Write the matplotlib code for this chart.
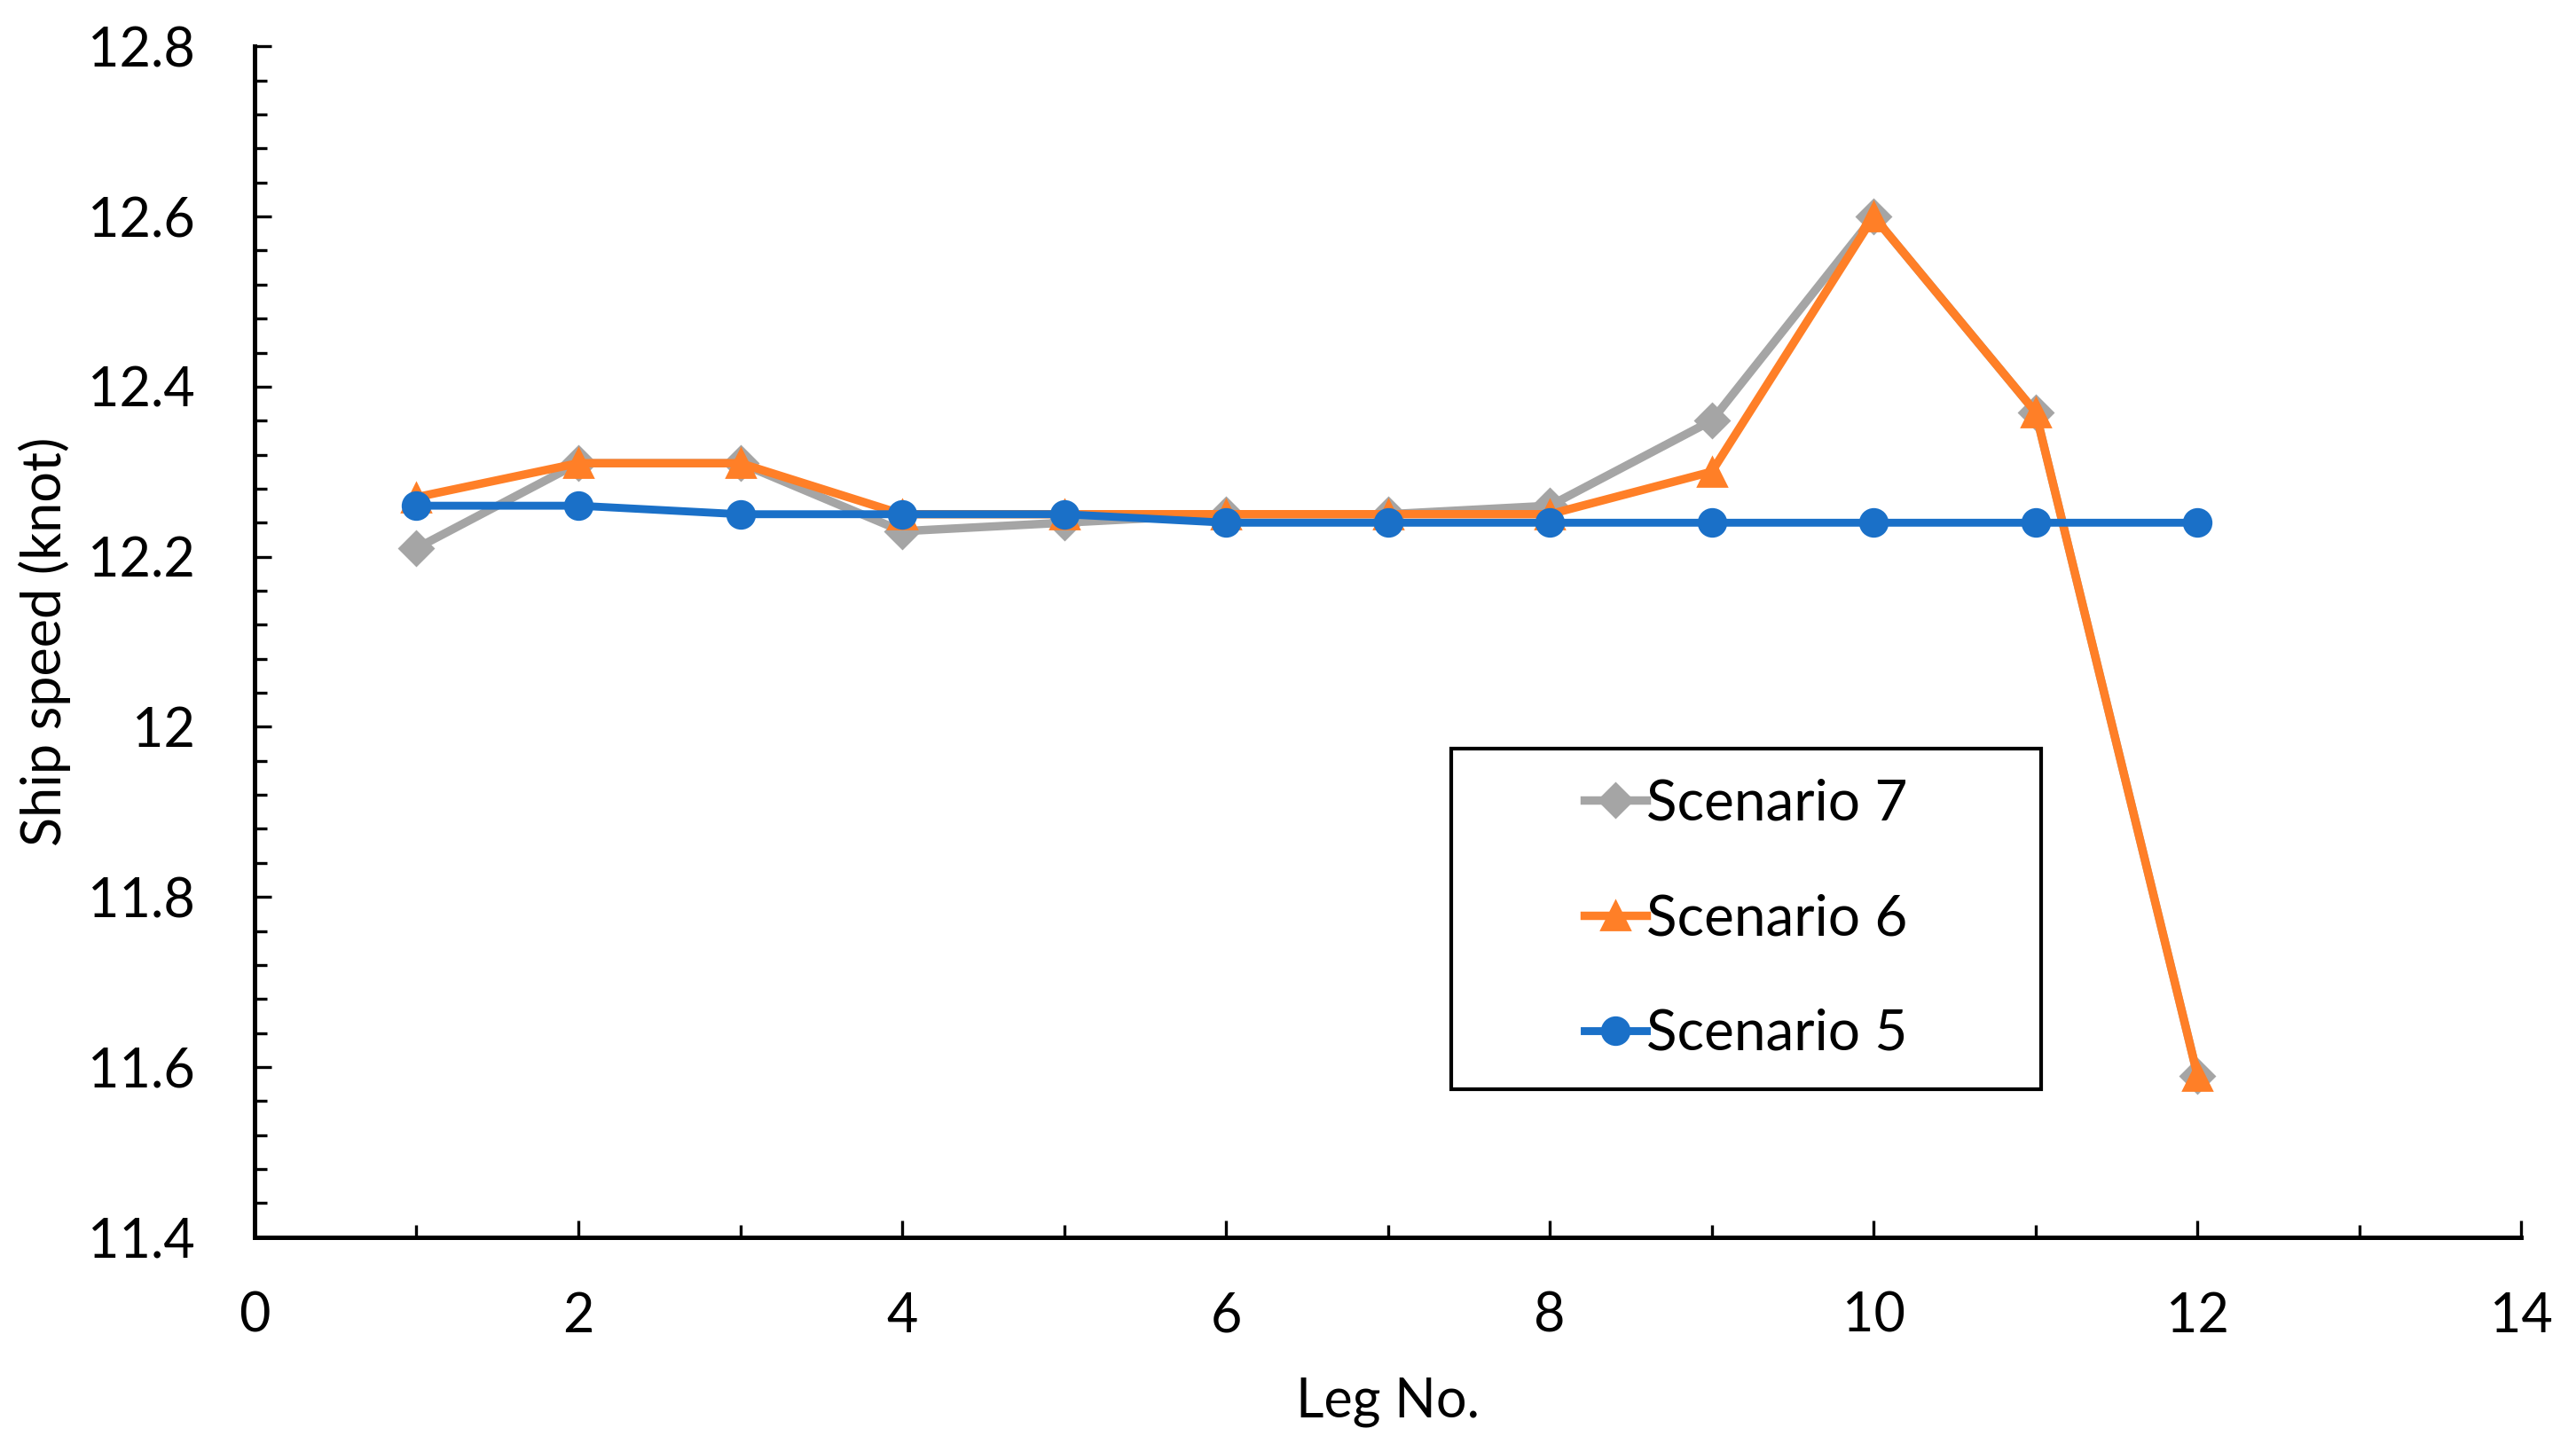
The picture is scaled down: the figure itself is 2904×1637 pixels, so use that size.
import matplotlib
matplotlib.use("Agg")
import matplotlib.pyplot as plt
from matplotlib.patches import Rectangle
from matplotlib.ticker import MultipleLocator, FuncFormatter

plt.rcParams['font.family'] = ['Lato', 'DejaVu Sans']

# Data
legs = [1, 2, 3, 4, 5, 6, 7, 8, 9, 10, 11, 12]
scenario7 = [12.21, 12.31, 12.31, 12.23, 12.24, 12.25, 12.25, 12.26, 12.36, 12.60, 12.37, 11.59]
scenario6 = [12.27, 12.31, 12.31, 12.25, 12.25, 12.25, 12.25, 12.25, 12.30, 12.60, 12.37, 11.59]
scenario5 = [12.26, 12.26, 12.25, 12.25, 12.25, 12.24, 12.24, 12.24, 12.24, 12.24, 12.24, 12.24]

fig = plt.figure(figsize=(14.52, 8.185), dpi=200)
ax = fig.add_axes([0.0988, 0.148, 0.880, 0.820])

ax.plot(legs, scenario7, color="#A5A5A5", lw=3.4, marker="D", ms=9.5,
        label="Scenario 7")
ax.plot(legs, scenario6, color="#FF7F27", lw=3.4, marker="^", ms=11.5,
        label="Scenario 6")
ax.plot(legs, scenario5, color="#1A70C8", lw=3.2, marker="o", ms=11,
        label="Scenario 5")

ax.set_xlim(0, 14)
ax.set_ylim(11.4, 12.8)
ax.xaxis.set_major_locator(MultipleLocator(2))
ax.xaxis.set_minor_locator(MultipleLocator(1))
ax.yaxis.set_major_locator(MultipleLocator(0.2))
ax.yaxis.set_minor_locator(MultipleLocator(0.04))
ax.yaxis.set_major_formatter(FuncFormatter(lambda v, p: f"{v:g}"))

for s in ["top", "right"]:
    ax.spines[s].set_visible(False)
for s in ["left", "bottom"]:
    ax.spines[s].set_linewidth(1.8)

ax.tick_params(which="major", direction="in", length=7, width=1.2,
               labelsize=22)
ax.tick_params(which="minor", direction="in", length=5, width=1.2)
ax.tick_params(axis="x", which="major", pad=22)
ax.tick_params(axis="y", which="major", pad=24)

ax.set_xlabel("Leg No.", fontsize=22, labelpad=14)
ax.set_ylabel("Ship speed (knot)", fontsize=22, labelpad=7)

# legend frame drawn separately so the entries sit centred in it
ax.add_patch(Rectangle((0.528, 0.124), 0.26, 0.286, transform=ax.transAxes,
                       fill=False, edgecolor="black", lw=1.5, zorder=5))
ax.legend(loc="center", bbox_to_anchor=(0.658, 0.267), fontsize=23,
          frameon=False, handlelength=1.1, handletextpad=0.0,
          labelspacing=1.12)

fig.savefig("out.png", dpi=200)
